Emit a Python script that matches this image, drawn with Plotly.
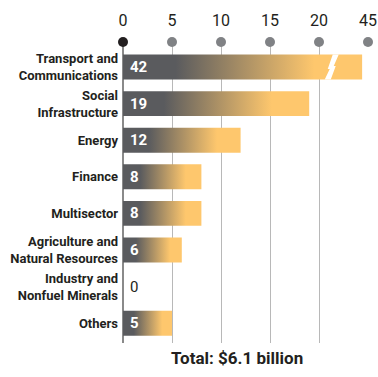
import plotly.graph_objects as go

# Sector shares of lending (percent)
sectors = [
    "Transport and<br>Communications",
    "Social<br>Infrastructure",
    "Energy",
    "Finance",
    "Multisector",
    "Agriculture and<br>Natural Resources",
    "Industry and<br>Nonfuel Minerals",
    "Others",
]
values = [42, 19, 12, 8, 8, 6, 0, 5]
tick_values = [0, 5, 10, 15, 20, 45]
total_label = "Total: $6.1 billion"

BREAK_AT = 20      # axis is linear up to here
BREAK_TOP = 45     # value shown at the far end after the break
BREAK_SPAN = 5     # axis units used for the compressed part


def axis_pos(v):
    """Map a value onto the broken axis."""
    if v <= BREAK_AT:
        return v
    return BREAK_AT + (v - BREAK_AT) * BREAK_SPAN / (BREAK_TOP - BREAK_AT)


DARK = "#5a5b5e"
GOLD = "#fec76d"
TEXT = "#231f20"
FONT = "Roboto, sans-serif"

bar_h = 0.68
y_top, y_bottom = -0.683, 7.54

fig = go.Figure()

# gradient bars drawn as filled polygons
for i, v in enumerate(values):
    if v <= 0:
        continue
    p = axis_pos(v)
    fig.add_trace(go.Scatter(
        x=[0, p, p, 0, 0],
        y=[i - bar_h / 2, i - bar_h / 2, i + bar_h / 2, i + bar_h / 2, i - bar_h / 2],
        mode="lines", fill="toself", line=dict(width=0),
        fillgradient=dict(type="horizontal",
                          colorscale=[[0, DARK], [0.22, DARK], [0.8, GOLD], [1, GOLD]]),
        hoverinfo="skip", showlegend=False,
    ))

# tick dots along the top of the axis
tick_pos = [axis_pos(t) for t in tick_values]
fig.add_trace(go.Scatter(
    x=tick_pos, y=[y_top] * len(tick_pos), mode="markers",
    marker=dict(size=10, color=[TEXT] + ["#808285"] * (len(tick_pos) - 1), line=dict(width=0)),
    cliponaxis=False, hoverinfo="skip", showlegend=False,
))

# value labels inside the bars
for i, v in enumerate(values):
    fig.add_annotation(
        x=0, y=i, xref="x", yref="y", text=f"<b>{v}</b>" if v > 0 else str(v),
        showarrow=False, xanchor="left", xshift=5,
        font=dict(family=FONT, size=15, color="white" if v > 0 else TEXT),
    )

# white zig-zag gap marking the axis break on the long bar
for i, v in enumerate(values):
    if v > BREAK_AT:
        cx = axis_pos(BREAK_AT) + 1.3
        ux = 1 / 9.8           # one pixel in x units
        uy = 1 / 36.6          # one pixel in y units
        pts = [(1, -12.5), (7, -12.5), (2, -1), (4, -1), (-1, 12.5), (-7, 12.5), (-2, 2), (-4, 2)]
        path = "M " + " L ".join(f"{cx + px * ux},{i + py * uy}" for px, py in pts) + " Z"
        fig.add_shape(type="path", path=path, xref="x", yref="y",
                      fillcolor="white", line=dict(width=0), layer="above")

fig.add_annotation(
    x=0.466, y=0, xref="paper", yref="paper", yshift=-15,
    text=f"<b>{total_label}</b>", showarrow=False, xanchor="center", yanchor="middle",
    font=dict(family=FONT, size=17, color=TEXT),
)

fig.update_xaxes(
    side="top", range=[0, 25], tickvals=tick_pos, ticktext=[str(t) for t in tick_values],
    tickfont=dict(family=FONT, size=16, color=TEXT), ticklabelstandoff=12,
    ticklabeloverflow="allow", automargin=False,
    showgrid=True, gridcolor="#b8b8b8", gridwidth=1,
    zeroline=True, zerolinecolor="#8a8a8a", zerolinewidth=2,
    showline=False, ticks="", fixedrange=True,
)
fig.update_yaxes(
    range=[y_bottom, y_top], tickvals=list(range(len(sectors))),
    ticktext=[f"<b>{s}</b>" for s in sectors],
    tickfont=dict(family=FONT, size=13, color=TEXT), automargin=False,
    showgrid=False, zeroline=False, showline=False, ticks="", ticklabelstandoff=4,
)

fig.update_layout(
    width=378, height=377,
    margin=dict(l=123, r=10, t=42, b=34),
    plot_bgcolor="white", paper_bgcolor="white",
    font=dict(family=FONT, color=TEXT),
)

fig.write_html("out.html")
